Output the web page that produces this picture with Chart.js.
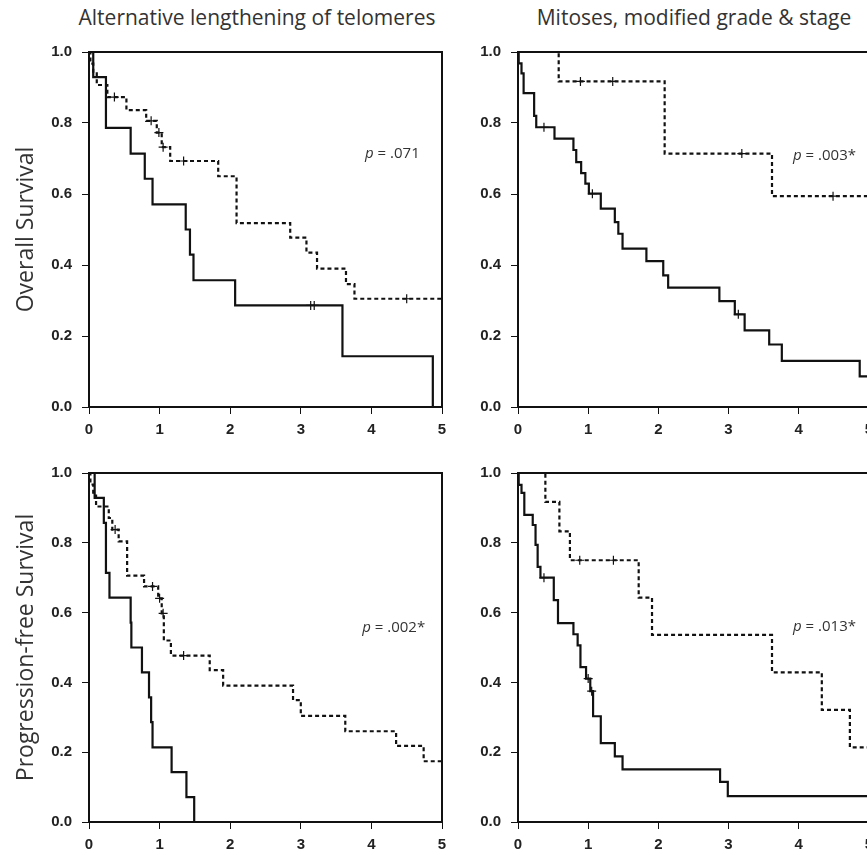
<!DOCTYPE html>
<html>
<head>
<meta charset="utf-8">
<script src="https://cdn.jsdelivr.net/npm/chart.js@4.4.0/dist/chart.umd.min.js"></script>
<style>
  html, body { margin: 0; padding: 0; background: #fff; width: 867px; height: 855px; overflow: hidden; }
  .panel { position: absolute; }
  .coltitle { position: absolute; top: 3px; font-family: "Open Sans", sans-serif; font-size: 21px; color: #333; white-space: nowrap; transform: translateX(-50%); }
</style>
</head>
<body>
<div class="coltitle" style="left:257px">Alternative lengthening of telomeres</div>
<div class="coltitle" style="left:694px">Mitoses, modified grade &amp; stage</div>

<div class="panel" style="left:0;top:30px"><canvas id="c1" width="455" height="425"></canvas></div>
<div class="panel" style="left:460px;top:30px"><canvas id="c2" width="420" height="425"></canvas></div>
<div class="panel" style="left:0;top:450px"><canvas id="c3" width="455" height="405"></canvas></div>
<div class="panel" style="left:460px;top:450px"><canvas id="c4" width="420" height="405"></canvas></div>

<script>
// x ticks (years) and y ticks (survival)
const xTicks = [0, 1, 2, 3, 4, 5];
const yTicks = [0, 0.2, 0.4, 0.6, 0.8, 1.0];

// ALT, overall survival
const altOsPosT = [0, 0.06, 0.24, 0.59, 0.79, 0.90, 1.37, 1.43, 1.48, 2.07, 3.59, 4.87];
const altOsPosS = [1, 0.929, 0.786, 0.714, 0.643, 0.571, 0.500, 0.429, 0.357, 0.286, 0.143, 0];
const altOsPosCens = [3.14, 3.19];
const altOsNegT = [0, 0.02, 0.06, 0.11, 0.26, 0.53, 0.81, 0.96, 1.03, 1.15, 1.83, 2.09, 2.85, 3.08, 3.23, 3.64, 3.76, 5.0];
const altOsNegS = [1, 0.967, 0.940, 0.907, 0.873, 0.836, 0.806, 0.773, 0.732, 0.693, 0.650, 0.518, 0.477, 0.435, 0.390, 0.346, 0.305, 0.305];
const altOsNegCens = [0.36, 0.88, 0.99, 1.05, 1.34, 4.50];

// mitoses / grade / stage, overall survival
const mitOsHighT = [0, 0.01, 0.05, 0.08, 0.23, 0.26, 0.52, 0.79, 0.83, 0.90, 0.96, 1.01, 1.18, 1.38, 1.43, 1.49, 1.83, 2.07, 2.14, 2.87, 3.09, 3.23, 3.58, 3.76, 4.87, 5.0];
const mitOsHighS = [1, 0.968, 0.940, 0.884, 0.820, 0.788, 0.756, 0.724, 0.690, 0.659, 0.629, 0.601, 0.559, 0.521, 0.488, 0.446, 0.411, 0.371, 0.336, 0.298, 0.261, 0.216, 0.176, 0.130, 0.086, 0.086];
const mitOsHighCens = [0.37, 1.06, 3.14];
const mitOsLowT = [0, 0.58, 2.09, 3.62, 5.0];
const mitOsLowS = [1, 0.917, 0.714, 0.594, 0.594];
const mitOsLowCens = [0.89, 1.35, 3.19, 4.49];

// ALT, progression-free survival
const altPfsPosT = [0, 0.08, 0.21, 0.24, 0.29, 0.59, 0.60, 0.75, 0.85, 0.88, 0.90, 1.17, 1.38, 1.49];
const altPfsPosS = [1, 0.929, 0.857, 0.714, 0.643, 0.571, 0.500, 0.429, 0.357, 0.286, 0.214, 0.143, 0.071, 0];
const altPfsNegT = [0, 0.02, 0.06, 0.10, 0.28, 0.33, 0.42, 0.54, 0.78, 0.98, 1.03, 1.06, 1.16, 1.71, 1.90, 2.89, 3.00, 3.63, 4.35, 4.74, 5.0];
const altPfsNegS = [1, 0.967, 0.935, 0.904, 0.871, 0.838, 0.804, 0.706, 0.675, 0.641, 0.598, 0.520, 0.477, 0.435, 0.391, 0.349, 0.304, 0.260, 0.218, 0.174, 0.174];
const altPfsNegCens = [0.37, 0.90, 1.00, 1.05, 1.34];

// mitoses / grade / stage, progression-free survival
const mitPfsHighT = [0, 0.01, 0.05, 0.09, 0.21, 0.25, 0.28, 0.32, 0.51, 0.57, 0.79, 0.85, 0.89, 0.97, 1.03, 1.07, 1.18, 1.38, 1.49, 2.88, 2.99, 5.0];
const mitPfsHighS = [1, 0.966, 0.943, 0.880, 0.851, 0.794, 0.731, 0.700, 0.636, 0.570, 0.538, 0.506, 0.444, 0.411, 0.375, 0.303, 0.226, 0.188, 0.151, 0.115, 0.074, 0.074];
const mitPfsHighCens = [0.37, 1.00, 1.05];
const mitPfsLowT = [0, 0.39, 0.59, 0.74, 1.72, 1.91, 3.62, 4.33, 4.73, 5.0];
const mitPfsLowS = [1, 0.917, 0.833, 0.750, 0.643, 0.536, 0.429, 0.321, 0.214, 0.214];
const mitPfsLowCens = [0.88, 1.36];

const pValues = ['.071', '.003*', '.002*', '.013*'];

const INK = '#111';

function survAt(ts, ss, t) {
    let s = ss[0];
    for (let i = 0; i < ts.length; i++) if (ts[i] <= t) s = ss[i];
    return s;
}

function curve(ts, ss, dashed) {
    return {
        type: 'line',
        data: ts.map((t, i) => ({ x: t, y: ss[i] })),
        stepped: true,
        borderColor: INK,
        borderWidth: 2.2,
        borderDash: dashed ? [4, 3] : [],
        pointRadius: 0,
        fill: false
    };
}

function censors(ts, ss, cens) {
    return {
        type: 'scatter',
        data: cens.map(t => ({ x: t, y: survAt(ts, ss, t) })),
        pointStyle: 'cross',
        pointRadius: 4.5,
        borderWidth: 1.2,
        borderColor: INK,
        showLine: false
    };
}

// box round the plot area
const framePlugin = {
    id: 'frame',
    afterDraw(chart) {
        const a = chart.chartArea, ctx = chart.ctx;
        ctx.save();
        ctx.strokeStyle = INK;
        ctx.lineWidth = 2;
        ctx.strokeRect(a.left, a.top, a.right - a.left, a.bottom - a.top);
        ctx.restore();
    }
};

// "p = ..." note, placed in data units
const pTextPlugin = {
    id: 'pText',
    afterDraw(chart, args, opts) {
        const ctx = chart.ctx;
        const x = chart.scales.x.getPixelForValue(opts.x);
        const y = chart.scales.y.getPixelForValue(opts.y);
        ctx.save();
        ctx.fillStyle = '#333';
        ctx.textBaseline = 'middle';
        ctx.font = 'italic 15px "Open Sans"';
        ctx.fillText('p', x, y);
        const w = ctx.measureText('p').width;
        ctx.font = '15px "Open Sans"';
        ctx.fillText(' = ' + opts.text, x + w, y);
        ctx.restore();
    }
};

function makePanel(id, cfg) {
    return new Chart(document.getElementById(id), {
        type: 'line',
        data: { datasets: cfg.datasets },
        plugins: [framePlugin, pTextPlugin],
        options: {
            responsive: false,
            animation: false,
            layout: { padding: { top: cfg.padTop, right: cfg.padRight, left: 0, bottom: 0 } },
            plugins: {
                legend: { display: false },
                tooltip: { enabled: false },
                pText: { x: cfg.pX, y: cfg.pY, text: cfg.pText }
            },
            scales: {
                x: {
                    type: 'linear',
                    min: xTicks[0], max: xTicks[xTicks.length - 1],
                    afterBuildTicks: s => { s.ticks = xTicks.map(v => ({ value: v })); },
                    ticks: { color: '#222', font: { family: 'Liberation Sans', size: 15, weight: 'bold' }, padding: 7 },
                    grid: { drawOnChartArea: false, tickLength: 7, color: INK, lineWidth: 1 },
                    border: { color: INK, width: 2 },
                    afterFit: s => { s.height = cfg.xH; }
                },
                y: {
                    min: 0, max: 1,
                    afterBuildTicks: s => { s.ticks = yTicks.map(v => ({ value: v })); },
                    ticks: { color: '#222', font: { family: 'Liberation Sans', size: 15, weight: 'bold' }, padding: 10, callback: v => v.toFixed(1) },
                    grid: { drawOnChartArea: false, tickLength: 7, color: INK, lineWidth: 1 },
                    border: { color: INK, width: 2 },
                    title: { display: !!cfg.yTitle, text: cfg.yTitle || '', color: '#333', font: { family: 'Open Sans', size: 23 }, padding: { top: 13, bottom: 0 } },
                    afterFit: s => { s.width = cfg.yW; }
                }
            }
        }
    });
}

makePanel('c1', {
    datasets: [
        curve(altOsPosT, altOsPosS, false), curve(altOsNegT, altOsNegS, true),
        censors(altOsPosT, altOsPosS, altOsPosCens), censors(altOsNegT, altOsNegS, altOsNegCens)
    ],
    padTop: 22, padRight: 13, xH: 48, yW: 89, yTitle: 'Overall Survival',
    pX: 3.91, pY: 0.713, pText: pValues[0]
});
makePanel('c2', {
    datasets: [
        curve(mitOsHighT, mitOsHighS, false), curve(mitOsLowT, mitOsLowS, true),
        censors(mitOsHighT, mitOsHighS, mitOsHighCens), censors(mitOsLowT, mitOsLowS, mitOsLowCens)
    ],
    padTop: 22, padRight: 9, xH: 48, yW: 58,
    pX: 3.92, pY: 0.707, pText: pValues[1]
});
makePanel('c3', {
    datasets: [
        curve(altPfsPosT, altPfsPosS, false), curve(altPfsNegT, altPfsNegS, true),
        censors(altPfsNegT, altPfsNegS, altPfsNegCens)
    ],
    padTop: 23, padRight: 13, xH: 33, yW: 89, yTitle: 'Progression-free Survival',
    pX: 3.87, pY: 0.556, pText: pValues[2]
});
makePanel('c4', {
    datasets: [
        curve(mitPfsHighT, mitPfsHighS, false), curve(mitPfsLowT, mitPfsLowS, true),
        censors(mitPfsHighT, mitPfsHighS, mitPfsHighCens), censors(mitPfsLowT, mitPfsLowS, mitPfsLowCens)
    ],
    padTop: 23, padRight: 9, xH: 33, yW: 58,
    pX: 3.92, pY: 0.56, pText: pValues[3]
});
</script>
</body>
</html>
